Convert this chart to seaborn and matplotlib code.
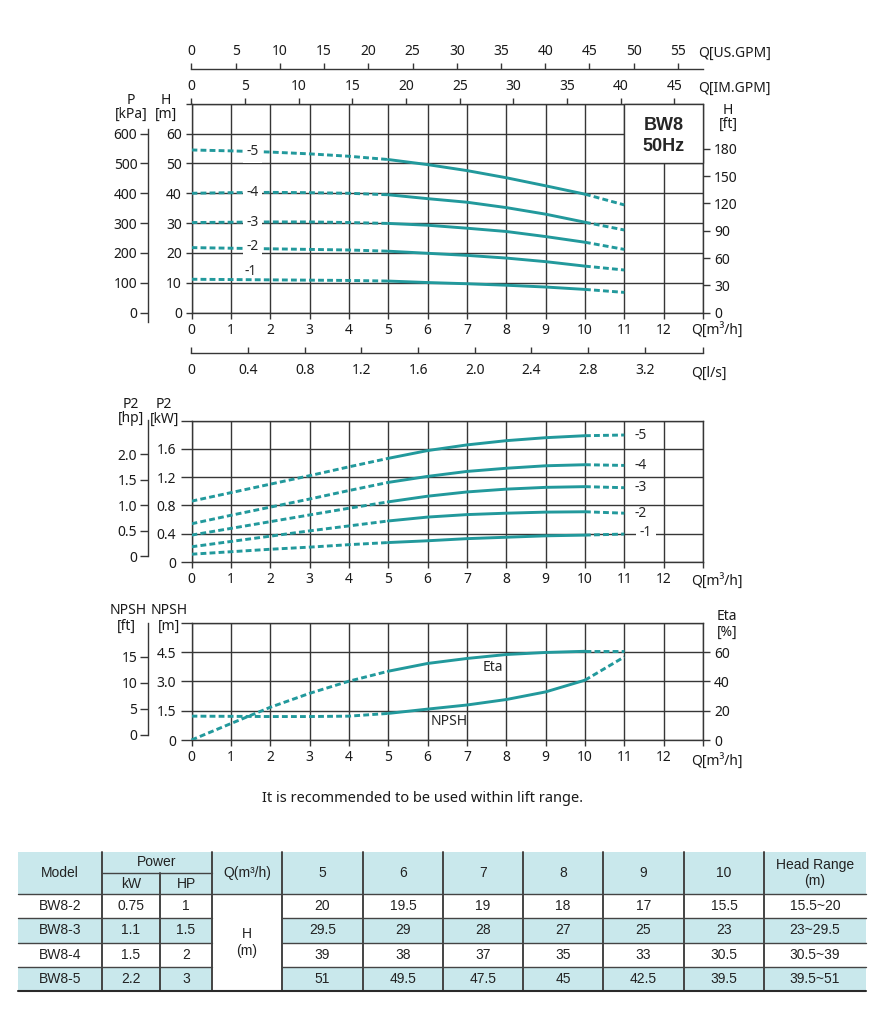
import numpy as np
import pandas as pd
import matplotlib.pyplot as plt
import seaborn as sns
from matplotlib.patches import Rectangle

# flow points (m3/h)
q = [0, 1, 2, 3, 4, 5, 6, 7, 8, 9, 10, 11]

# head curves H [m]
head_1 = [11.2, 11.1, 11.0, 10.9, 10.8, 10.6, 10.1, 9.7, 9.2, 8.6, 7.8, 6.8]
head_2 = [21.8, 21.6, 21.4, 21.2, 21.0, 20.6, 19.9, 19.2, 18.3, 17.1, 15.6, 14.3]
head_3 = [30.2, 30.3, 30.4, 30.4, 30.2, 29.9, 29.3, 28.3, 27.2, 25.5, 23.6, 21.2]
head_4 = [40.0, 40.2, 40.3, 40.2, 40.0, 39.5, 38.2, 37.0, 35.2, 33.0, 30.3, 27.7]
head_5 = [54.5, 54.2, 53.8, 53.2, 52.4, 51.3, 49.6, 47.6, 45.2, 42.5, 39.7, 36.1]

# shaft power P2 [kW]
p2_1 = [0.11, 0.145, 0.18, 0.21, 0.245, 0.275, 0.30, 0.33, 0.35, 0.37, 0.38, 0.395]
p2_2 = [0.215, 0.29, 0.365, 0.44, 0.51, 0.58, 0.635, 0.67, 0.69, 0.705, 0.71, 0.69]
p2_3 = [0.38, 0.475, 0.57, 0.665, 0.76, 0.85, 0.93, 0.99, 1.03, 1.055, 1.065, 1.05]
p2_4 = [0.54, 0.66, 0.775, 0.89, 1.01, 1.125, 1.21, 1.28, 1.325, 1.36, 1.375, 1.365]
p2_5 = [0.86, 0.98, 1.10, 1.22, 1.345, 1.465, 1.575, 1.655, 1.715, 1.757, 1.785, 1.795]

# efficiency [%] and NPSH [m]
eta = [0, 11.2, 22.3, 31.8, 40.1, 46.9, 52.2, 55.6, 58.3, 59.7, 60.5, 60.5]
npsh = [1.22, 1.21, 1.2, 1.2, 1.22, 1.36, 1.58, 1.79, 2.07, 2.46, 3.06, 4.25]

stages = ['-1', '-2', '-3', '-4', '-5']

# table data
models = ['BW8-2', 'BW8-3', 'BW8-4', 'BW8-5']
power_kw = ['0.75', '1.1', '1.5', '2.2']
power_hp = ['1', '1.5', '2', '3']
table_flows = ['5', '6', '7', '8', '9', '10']
table_heads = [['20', '19.5', '19', '18', '17', '15.5'],
               ['29.5', '29', '28', '27', '25', '23'],
               ['39', '38', '37', '35', '33', '30.5'],
               ['51', '49.5', '47.5', '45', '42.5', '39.5']]
head_range = ['15.5~20', '23~29.5', '30.5~39', '39.5~51']

TEAL = '#22999c'
GRID = '#363636'
CYAN = '#c9e8ec'
W, H = 881, 1024

sns.set_theme(style='ticks')
plt.rcParams['font.family'] = ['Noto Sans', 'DejaVu Sans']
plt.rcParams['lines.dashed_pattern'] = [2.0, 1.1]
plt.rcParams['axes.linewidth'] = 1.0

fig = plt.figure(figsize=(W / 100, H / 100), dpi=100)


def axes_px(x0, y0, x1, y1):
    return fig.add_axes([x0 / W, 1 - y1 / H, (x1 - x0) / W, (y1 - y0) / H])


def ftext(x, y, s, **kw):
    kw.setdefault('ha', 'center')
    kw.setdefault('va', 'center')
    kw.setdefault('fontsize', 10)
    kw.setdefault('color', '#1a1a1a')
    fig.text(x / W, 1 - y / H, s, **kw)


def style_main(ax, ymax, yticks, ylabels, ylen):
    ax.set_xlim(0, 13)
    ax.set_ylim(0, ymax)
    ax.set_xticks(range(14))
    ax.set_xticklabels([str(i) for i in range(13)] + [''])
    ax.set_yticks(yticks)
    ax.set_yticklabels(ylabels)
    ax.grid(True, color=GRID, lw=1.0)
    ax.tick_params(axis='x', direction='out', length=4.5, width=1.0, color=GRID,
                   labelsize=10, pad=3, labelcolor='#1a1a1a')
    ax.tick_params(axis='y', direction='out', length=ylen, width=1.0, color=GRID,
                   labelsize=10, pad=3, labelcolor='#1a1a1a')
    for s in ax.spines.values():
        s.set_visible(True)
        s.set_color(GRID)
        s.set_linewidth(1.0)


def hide_spines(ax, keep=()):
    for k, s in ax.spines.items():
        s.set_visible(k in keep)
        s.set_color(GRID)
        s.set_linewidth(1.0)


def curve(ax, y):
    df = pd.DataFrame({'Q': q, 'v': y})
    for lo, hi, ls in [(0, 5, '--'), (5, 10, '-'), (10, 11, '--')]:
        seg = df[(df.Q >= lo) & (df.Q <= hi)]
        sns.lineplot(data=seg, x='Q', y='v', ax=ax, color=TEAL, lw=2.1,
                     linestyle=ls, zorder=4)
    ax.set_xlabel('')
    ax.set_ylabel('')


# ---------------- head chart ----------------
ax1 = axes_px(191.5, 103.7, 703, 312.7)
style_main(ax1, 70, range(0, 71, 10), [str(v) for v in range(0, 61, 10)] + [''], 4)
heads = [head_1, head_2, head_3, head_4, head_5]
for h in heads:
    curve(ax1, h)
ax1.set_xlim(0, 13)
ax1.set_ylim(0, 70)
for name, h in zip(stages, heads):
    yy = np.interp(1.55, q, h)
    if name == '-1':
        ax1.text(1.5, yy + 2.6, name, fontsize=10, ha='center', va='center', zorder=6)
    else:
        if name == '-2':
            yy += 0.6
        ax1.text(1.55, yy, name, fontsize=10, ha='center', va='center', zorder=6,
                 bbox=dict(fc='white', ec='none', pad=2.5))

ax1.add_patch(Rectangle((11, 50), 2, 20, fc='white', ec=GRID, lw=1.0, zorder=5, clip_on=False))
ax1.text(12, 62.6, 'BW8', fontsize=13, fontweight='bold', ha='center', va='center',
         family=['Liberation Sans', 'DejaVu Sans'], zorder=6)
ax1.text(12, 55.6, '50Hz', fontsize=13, fontweight='bold', ha='center', va='center',
         family=['Liberation Sans', 'DejaVu Sans'], zorder=6)

# H [ft] on the right
ax_ft = ax1.twinx()
ax_ft.set_ylim(0, 70 / 0.3048)
ax_ft.set_yticks(range(0, 181, 30))
ax_ft.tick_params(axis='y', direction='out', length=5, width=1.0, color=GRID,
                  labelsize=10, pad=3, labelcolor='#1a1a1a')
hide_spines(ax_ft)

# P [kPa] on the left
ax_kpa = ax1.twinx()
ax_kpa.yaxis.tick_left()
ax_kpa.set_ylim(0, 700)
ax_kpa.set_yticks(range(0, 601, 100))
ax_kpa.tick_params(axis='y', direction='out', length=6, width=1.0, color=GRID,
                   labelsize=10, pad=2, labelcolor='#1a1a1a')
hide_spines(ax_kpa, keep=('left',))
ax_kpa.spines['left'].set_position(('outward', 31))
ax_kpa.spines['left'].set_bounds(-31, 615)

# IM.GPM on top
ax_im = ax1.twiny()
ax_im.set_xlim(0, 13 * 3.666)
ax_im.set_xticks(range(0, 46, 5))
ax_im.tick_params(axis='x', direction='out', length=4, width=1.0, color=GRID,
                  labelsize=10, pad=3, labelcolor='#1a1a1a')
hide_spines(ax_im)

# US.GPM above
ax_us = ax1.twiny()
ax_us.set_xlim(0, 13 * 4.45)
ax_us.set_xticks(range(0, 56, 5))
ax_us.tick_params(axis='x', direction='out', length=4, width=1.0, color=GRID,
                  labelsize=10, pad=3, labelcolor='#1a1a1a')
hide_spines(ax_us, keep=('top',))
ax_us.spines['top'].set_position(('outward', 25))

# l/s below
ax_ls = ax1.twiny()
ax_ls.xaxis.set_ticks_position('bottom')
ax_ls.xaxis.set_label_position('bottom')
ax_ls.set_xlim(0, 13 / 3.6)
ls_ticks = [0, 0.4, 0.8, 1.2, 1.6, 2.0, 2.4, 2.8, 3.2]
ax_ls.set_xticks(ls_ticks + [13 / 3.6])
ax_ls.set_xticklabels(['0'] + [f'{v:.1f}' for v in ls_ticks[1:]] + [''])
ax_ls.tick_params(axis='x', direction='in', length=4, width=1.0, color=GRID,
                  labelsize=10, pad=7, labelcolor='#1a1a1a')
hide_spines(ax_ls, keep=('bottom',))
ax_ls.spines['bottom'].set_position(('outward', 29))

ftext(131, 100, 'P')
ftext(131, 114, '[kPa]')
ftext(166, 100, 'H')
ftext(166, 114, '[m]')
ftext(728, 110, 'H')
ftext(728, 124, '[ft]')
ftext(698, 53, 'Q[US.GPM]', ha='left')
ftext(698, 88, 'Q[IM.GPM]', ha='left')
ftext(691, 331, 'Q[m³/h]', ha='left')
ftext(691, 373, 'Q[l/s]', ha='left')

# ---------------- power chart ----------------
ax2 = axes_px(191.5, 420.5, 703, 562)
style_main(ax2, 2.0, [0, 0.4, 0.8, 1.2, 1.6, 2.0],
           ['0', '0.4', '0.8', '1.2', '1.6', ''], 8)
powers = [p2_1, p2_2, p2_3, p2_4, p2_5]
for p in powers:
    curve(ax2, p)
ax2.set_xlim(0, 13)
ax2.set_ylim(0, 2.0)
for name, p in zip(stages, powers):
    if name == '-1':
        ax2.text(11.55, p[-1] + 0.015, name, fontsize=10, ha='center', va='center', zorder=6,
                 bbox=dict(fc='white', ec='none', pad=2.5))
    else:
        ax2.text(11.42, p[-1], name, fontsize=10, ha='center', va='center', zorder=6)

ax_hp = ax2.twinx()
ax_hp.yaxis.tick_left()
ax_hp.set_ylim(-0.1176, 2.667)
ax_hp.set_yticks([0, 0.5, 1.0, 1.5, 2.0])
ax_hp.set_yticklabels(['0', '0.5', '1.0', '1.5', '2.0'])
ax_hp.tick_params(axis='y', direction='out', length=6, width=1.0, color=GRID,
                  labelsize=10, pad=2, labelcolor='#1a1a1a')
hide_spines(ax_hp, keep=('left',))
ax_hp.spines['left'].set_position(('outward', 31))
ax_hp.spines['left'].set_bounds(0, 2.667)

ftext(131, 405, 'P2')
ftext(131, 419, '[hp]')
ftext(164, 405, 'P2')
ftext(165, 419, '[kW]')
ftext(691, 582, 'Q[m³/h]', ha='left')

# ---------------- NPSH / Eta chart ----------------
ax3 = axes_px(191.5, 622.7, 703, 740)
style_main(ax3, 6.0, [0, 1.5, 3.0, 4.5, 6.0], ['0', '1.5', '3.0', '4.5', ''], 8)
curve(ax3, npsh)
ax3.set_xlim(0, 13)
ax3.set_ylim(0, 6.0)

ax_eta = ax3.twinx()
ax_eta.set_ylim(0, 80)
curve(ax_eta, eta)
ax_eta.set_xlim(0, 13)
ax_eta.set_ylim(0, 80)
ax_eta.set_yticks([0, 20, 40, 60])
ax_eta.tick_params(axis='y', direction='out', length=5, width=1.0, color=GRID,
                   labelsize=10, pad=3, labelcolor='#1a1a1a')
hide_spines(ax_eta)
ax_eta.text(7.65, 49.5, 'Eta', fontsize=10, ha='center', va='center', zorder=6)
ax3.text(6.55, 0.95, 'NPSH', fontsize=10, ha='center', va='center', zorder=6)

ax_nft = ax3.twinx()
ax_nft.yaxis.tick_left()
ax_nft.set_ylim(-0.96, 21.5)
ax_nft.set_yticks([0, 5, 10, 15])
ax_nft.tick_params(axis='y', direction='out', length=6, width=1.0, color=GRID,
                   labelsize=10, pad=2, labelcolor='#1a1a1a')
hide_spines(ax_nft, keep=('left',))
ax_nft.spines['left'].set_position(('outward', 31))
ax_nft.spines['left'].set_bounds(0, 21.5)

ftext(128, 611, 'NPSH')
ftext(126, 626, '[ft]')
ftext(169, 611, 'NPSH')
ftext(169, 626, '[m]')
ftext(727, 617, 'Eta')
ftext(727, 632, '[%]')
ftext(691, 762, 'Q[m³/h]', ha='left')

ftext(422, 799, 'It is recommended to be used within lift range.', fontsize=10.5)

# ---------------- table ----------------
axt = axes_px(0, 840, W, 1000)
axt.set_xlim(0, W)
axt.set_ylim(1000, 840)
axt.axis('off')

cols = [18, 102, 160, 212, 282, 363, 443, 523, 603, 684, 764, 866]
rows = [852, 873, 894, 918, 943, 967, 991]
TF = ['Liberation Sans', 'DejaVu Sans']
TC = '#222222'
LC = '#444444'

axt.add_patch(Rectangle((cols[0], rows[0]), cols[-1] - cols[0], rows[2] - rows[0],
                        fc=CYAN, ec='none'))
for i in range(4):
    fc = 'white' if i % 2 == 0 else CYAN
    axt.add_patch(Rectangle((cols[0], rows[2 + i]), cols[-1] - cols[0],
                            rows[3 + i] - rows[2 + i], fc=fc, ec='none'))
axt.add_patch(Rectangle((cols[3], rows[2]), cols[4] - cols[3], rows[6] - rows[2],
                        fc='white', ec='none'))

for x in cols[1:-1]:
    y0 = rows[1] if x == 160 else rows[0]
    axt.plot([x, x], [y0, rows[6]], color=LC, lw=1.4)
axt.plot([cols[1], cols[3]], [rows[1], rows[1]], color=LC, lw=1.0)
axt.plot([cols[0], cols[-1]], [rows[2], rows[2]], color=LC, lw=1.0)
for y in rows[3:6]:
    axt.plot([cols[0], cols[3]], [y, y], color=LC, lw=1.0)
    axt.plot([cols[4], cols[-1]], [y, y], color=LC, lw=1.0)
axt.plot([cols[0], cols[-1]], [rows[6], rows[6]], color='#2a2a2a', lw=1.5)


def cell(x, y, s):
    axt.text(x, y, s, ha='center', va='center', fontsize=10, family=TF, color=TC)


mid = lambda a, b: (a + b) / 2
hy = mid(rows[0], rows[2])
cell(mid(cols[0], cols[1]), hy, 'Model')
cell(mid(cols[1], cols[3]), mid(rows[0], rows[1]), 'Power')
cell(mid(cols[1], cols[2]), mid(rows[1], rows[2]), 'kW')
cell(mid(cols[2], cols[3]), mid(rows[1], rows[2]), 'HP')
cell(mid(cols[3], cols[4]), hy, 'Q(m³/h)')
for j, f in enumerate(table_flows):
    cell(mid(cols[4 + j], cols[5 + j]), hy, f)
cell(mid(cols[10], cols[11]), hy, 'Head Range\n(m)')
cell(mid(cols[3], cols[4]), mid(rows[2], rows[6]), 'H\n(m)')
for i in range(4):
    ry = mid(rows[2 + i], rows[3 + i])
    cell(mid(cols[0], cols[1]), ry, models[i])
    cell(mid(cols[1], cols[2]), ry, power_kw[i])
    cell(mid(cols[2], cols[3]), ry, power_hp[i])
    for j in range(6):
        cell(mid(cols[4 + j], cols[5 + j]), ry, table_heads[i][j])
    cell(mid(cols[10], cols[11]), ry, head_range[i])

fig.savefig('out.png', dpi=100, facecolor='white')
